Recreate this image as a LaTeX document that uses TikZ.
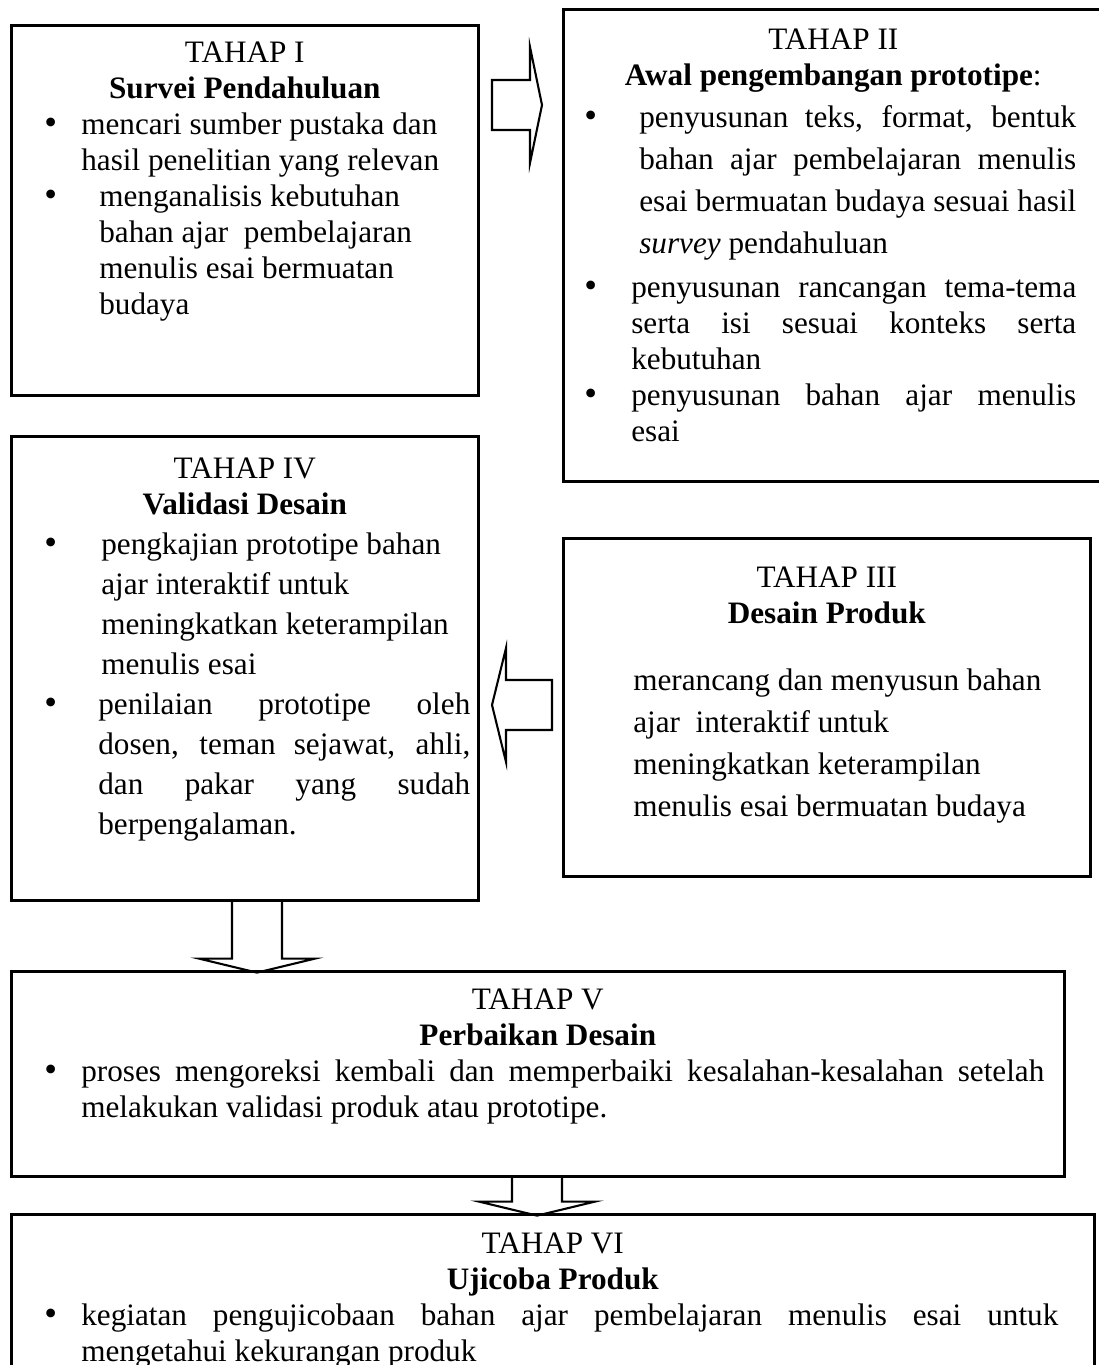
\documentclass[tikz,border=0pt]{standalone}
\usepackage{fontspec}
\setmainfont{Liberation Serif}
\newlength\px
\setlength\px{0.3846pt}
\tikzset{
  kotak/.style={draw, line width=1pt, rectangle, inner sep=0pt, anchor=north west},
  panah/.style={draw, line width=0.8pt, line join=miter}
}
% heading of a box: first baseline, stage, title
\newcommand\judul[3]{{\centering\rule{0pt}{#1}#2\\#3\par}}
% bullet item: bullet offset, text indent, text
\newcommand\titik{{\fontsize{14pt}{0pt}\selectfont\textbullet}}
\newcommand\butir[3]{\par\noindent\hangindent=#2\hangafter=1\hbox to #2{\hskip#1\titik\hfil}#3\par}
\newcommand\isi{\fontsize{12pt}{36\px}\selectfont\tolerance=10000\hbadness=10000\hyphenpenalty=10000}

\begin{document}
\begin{tikzpicture}[x=0.3846pt, y=-0.3846pt]
\useasboundingbox (0,0) rectangle (1099,1365);

\node[kotak] (t1) at (10,24) {\begin{minipage}[t][370\px][t]{467\px}\isi
\judul{37\px}{TAHAP I}{\textbf{Survei Pendahuluan}}
\butir{33\px}{70\px}{mencari sumber pustaka dan\newline hasil penelitian yang relevan}
\butir{33\px}{88\px}{menganalisis kebutuhan\newline bahan ajar~ pembelajaran\newline menulis esai bermuatan\newline budaya}
\end{minipage}};

\node[kotak] (t2) at (562,8) {\begin{minipage}[t][472\px][t]{540\px}\isi\rightskip=27\px
\judul{40\px}{TAHAP II}{\textbf{Awal pengembangan prototipe}:}
{\baselineskip=42\px
\butir{21\px}{76\px}{penyusunan teks, format, bentuk\linebreak bahan ajar pembelajaran menulis\linebreak esai bermuatan budaya sesuai hasil\linebreak \textit{survey} pendahuluan}}
\vspace{8\px}
\butir{21\px}{68\px}{penyusunan rancangan tema-tema\linebreak serta isi sesuai konteks serta\linebreak kebutuhan}
\butir{21\px}{68\px}{penyusunan bahan ajar menulis\linebreak esai}
\end{minipage}};

\node[kotak] (t4) at (10,435) {\begin{minipage}[t][464\px][t]{467\px}\isi\rightskip=8\px
\judul{42\px}{TAHAP IV}{\textbf{Validasi Desain}}
{\baselineskip=40\px
\butir{33\px}{90\px}{pengkajian prototipe bahan\newline ajar interaktif untuk\newline meningkatkan keterampilan\newline menulis esai}
\butir{33\px}{87\px}{penilaian prototipe oleh\linebreak dosen, teman sejawat, ahli,\linebreak dan pakar yang sudah\linebreak berpengalaman.}}
\end{minipage}};

\node[kotak] (t3) at (562,537) {\begin{minipage}[t][338\px][t]{527\px}\isi
\judul{49\px}{TAHAP III}{\textbf{Desain Produk}}
\vspace{25\px}
{\baselineskip=42\px\leftskip=70\px
merancang dan menyusun bahan\newline ajar~ interaktif untuk\newline meningkatkan keterampilan\newline menulis esai bermuatan budaya\par}
\end{minipage}};

\node[kotak] (t5) at (10,970) {\begin{minipage}[t][205\px][t]{1053\px}\isi\rightskip=20\px
\judul{38\px}{TAHAP V}{\textbf{Perbaikan Desain}}
\butir{33\px}{70\px}{proses mengoreksi kembali dan memperbaiki kesalahan-kesalahan setelah\linebreak melakukan validasi produk atau prototipe.}
\end{minipage}};

\node[kotak] (t6) at (10,1213) {\begin{minipage}[t][200\px][t]{1083\px}\isi\rightskip=36\px
\judul{39\px}{TAHAP VI}{\textbf{Ujicoba Produk}}
\butir{33\px}{70\px}{kegiatan pengujicobaan bahan ajar pembelajaran menulis esai untuk\linebreak mengetahui kekurangan produk}
\end{minipage}};

% block arrows between the stages
\coordinate (a12) at (492,105);
\coordinate (a34) at (552,705);
\coordinate (a45) at (257,0 |- t4.south);
\coordinate (a56) at (537,0 |- t5.south);
\draw[panah] (a12) ++(0,-25) -- ++(38,0) -- ++(0,-33) -- ++(12,58) -- ++(-12,58) -- ++(0,-33) -- ++(-38,0) -- cycle;
\draw[panah] (a34) ++(0,-25) -- ++(-46,0) -- ++(0,-32) -- ++(-14,57) -- ++(14,57) -- ++(0,-32) -- ++(46,0) -- cycle;
\draw[panah] (a45) ++(-25,0) -- ++(0,57) -- ++(-33,0) -- ++(58,14) -- ++(58,-14) -- ++(-33,0) -- ++(0,-57);
\draw[panah] (a56) ++(-25,0) -- ++(0,24) -- ++(-33,0) -- ++(58,14) -- ++(58,-14) -- ++(-33,0) -- ++(0,-24);
\end{tikzpicture}
\end{document}
